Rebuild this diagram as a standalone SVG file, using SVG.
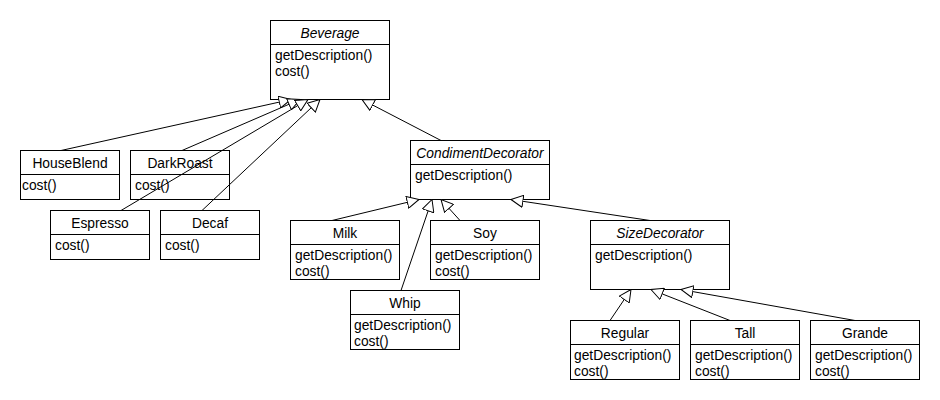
<svg xmlns="http://www.w3.org/2000/svg" width="940" height="400" viewBox="0 0 940 400">
<defs>
<style>
.box rect{fill:#fff;stroke:#000;stroke-width:1}
.box line{stroke:#000;stroke-width:1}
text{font-family:"Liberation Sans",Arial,sans-serif;font-size:13.8px;fill:#000}
.t{text-anchor:middle}
.i{font-style:italic}
.c line{stroke:#000;stroke-width:1;marker-end:url(#tri)}
</style>
<marker id="tri" viewBox="0 0 13 13" refX="12.5" refY="6.5" markerWidth="13" markerHeight="13" markerUnits="userSpaceOnUse" orient="auto">
<path d="M0.5,0.5 L12.5,6.5 L0.5,12.5 Z" fill="#fff" stroke="#000" stroke-width="1"/>
</marker>
</defs>
<rect width="940" height="400" fill="#fff"/>

<g id="Beverage" class="box">
<rect x="270.5" y="20.5" width="119" height="79"/><line x1="270.5" y1="44.5" x2="389.5" y2="44.5"/>
<text class="t i" x="330" y="38">Beverage</text>
<text x="275" y="60">getDescription()</text><text x="275" y="76">cost()</text>
</g>
<g id="HouseBlend" class="box">
<rect x="20.5" y="150.5" width="99" height="49"/><line x1="20.5" y1="174.5" x2="119.5" y2="174.5"/>
<text class="t" x="70" y="168">HouseBlend</text><text x="22" y="190">cost()</text>
</g>
<g id="DarkRoast" class="box">
<rect x="130.5" y="150.5" width="99" height="49"/><line x1="130.5" y1="174.5" x2="229.5" y2="174.5"/>
<text class="t" x="180" y="168">DarkRoast</text><text x="135" y="190">cost()</text>
</g>
<g id="Espresso" class="box">
<rect x="50.5" y="210.5" width="99" height="49"/><line x1="50.5" y1="234.5" x2="149.5" y2="234.5"/>
<text class="t" x="100" y="228">Espresso</text><text x="55" y="250">cost()</text>
</g>
<g id="Decaf" class="box">
<rect x="160.5" y="210.5" width="99" height="49"/><line x1="160.5" y1="234.5" x2="259.5" y2="234.5"/>
<text class="t" x="210" y="228">Decaf</text><text x="165" y="250">cost()</text>
</g>
<g id="CondimentDecorator" class="box">
<rect x="410.5" y="140.5" width="139" height="59"/><line x1="410.5" y1="164.5" x2="549.5" y2="164.5"/>
<text class="t i" x="480" y="158">CondimentDecorator</text><text x="415" y="180">getDescription()</text>
</g>
<g id="Milk" class="box">
<rect x="290.5" y="220.5" width="109" height="59"/><line x1="290.5" y1="244.5" x2="399.5" y2="244.5"/>
<text class="t" x="345" y="238">Milk</text><text x="295" y="260">getDescription()</text><text x="295" y="276">cost()</text>
</g>
<g id="Soy" class="box">
<rect x="430.5" y="220.5" width="109" height="59"/><line x1="430.5" y1="244.5" x2="539.5" y2="244.5"/>
<text class="t" x="485" y="238">Soy</text><text x="435" y="260">getDescription()</text><text x="435" y="276">cost()</text>
</g>
<g id="Whip" class="box">
<rect x="350.5" y="290.5" width="109" height="59"/><line x1="350.5" y1="314.5" x2="459.5" y2="314.5"/>
<text class="t" x="405" y="308">Whip</text><text x="354" y="330">getDescription()</text><text x="354" y="346">cost()</text>
</g>
<g id="SizeDecorator" class="box">
<rect x="590.5" y="220.5" width="139" height="69"/><line x1="590.5" y1="244.5" x2="729.5" y2="244.5"/>
<text class="t i" x="660" y="238">SizeDecorator</text><text x="595" y="260">getDescription()</text>
</g>
<g id="Regular" class="box">
<rect x="570.5" y="320.5" width="109" height="59"/><line x1="570.5" y1="344.5" x2="679.5" y2="344.5"/>
<text class="t" x="625" y="338">Regular</text><text x="574" y="360">getDescription()</text><text x="574" y="376">cost()</text>
</g>
<g id="Tall" class="box">
<rect x="690.5" y="320.5" width="109" height="59"/><line x1="690.5" y1="344.5" x2="799.5" y2="344.5"/>
<text class="t" x="745" y="338">Tall</text><text x="695" y="360">getDescription()</text><text x="695" y="376">cost()</text>
</g>
<g id="Grande" class="box">
<rect x="810.5" y="320.5" width="109" height="59"/><line x1="810.5" y1="344.5" x2="919.5" y2="344.5"/>
<text class="t" x="865" y="338">Grande</text><text x="815" y="360">getDescription()</text><text x="815" y="376">cost()</text>
</g>

<g id="connectors" class="c">
<line x1="61" y1="150.5" x2="291" y2="99.5"/>
<line x1="182" y1="150.5" x2="300" y2="99.5"/>
<line x1="121" y1="210.5" x2="308" y2="99.5"/>
<line x1="202" y1="210.5" x2="320" y2="99.5"/>
<line x1="441" y1="140.5" x2="362" y2="99.5"/>
<line x1="332" y1="220.5" x2="419" y2="199.5"/>
<line x1="401" y1="290.5" x2="432" y2="199.5"/>
<line x1="460" y1="220.5" x2="441" y2="199.5"/>
<line x1="650" y1="220.5" x2="511" y2="199.5"/>
<line x1="610" y1="320.5" x2="631" y2="289.5"/>
<line x1="730" y1="320.5" x2="651" y2="289.5"/>
<line x1="855" y1="320.5" x2="681" y2="289.5"/>
</g>
</svg>
